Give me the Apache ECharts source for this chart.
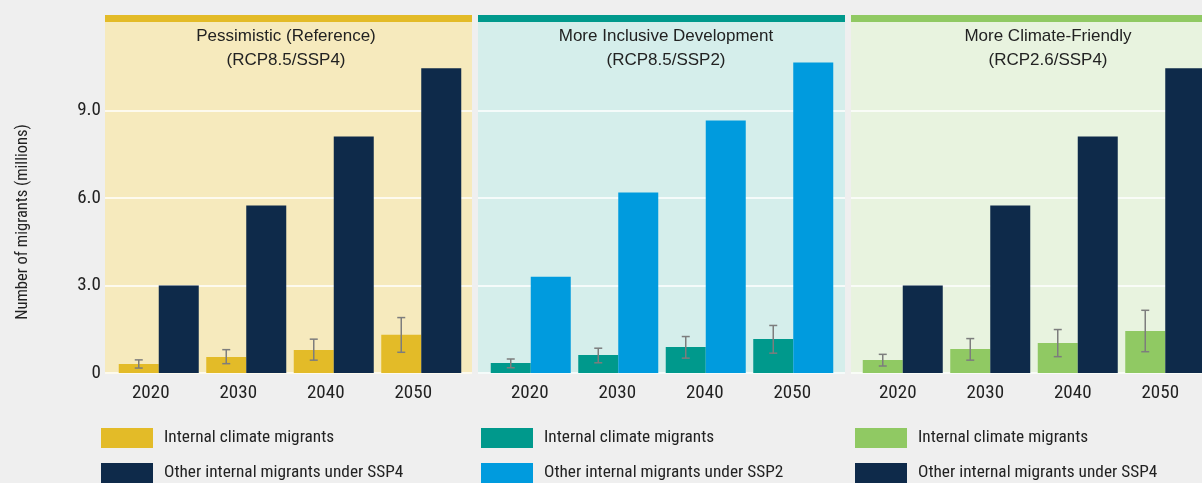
<!DOCTYPE html>
<html>
<head>
<meta charset="utf-8">
<script src="https://cdn.jsdelivr.net/npm/echarts@6/dist/echarts.min.js"></script>
<style>
  html, body { margin: 0; padding: 0; background: #efefef; }
  #chart { width: 1202px; height: 483px; }
</style>
</head>
<body>
<div id="chart"></div>
<script>
// Categories
const years = ['2020', '2030', '2040', '2050'];

// Pessimistic (Reference) scenario, millions of migrants
const pessimisticClimate = [0.31, 0.55, 0.79, 1.31];
const pessimisticClimateLow = [0.17, 0.32, 0.44, 0.71];
const pessimisticClimateHigh = [0.45, 0.80, 1.16, 1.90];
const pessimisticOther = [3.00, 5.74, 8.11, 10.45];

// More Inclusive Development scenario
const inclusiveClimate = [0.34, 0.62, 0.89, 1.17];
const inclusiveClimateLow = [0.18, 0.35, 0.51, 0.68];
const inclusiveClimateHigh = [0.48, 0.85, 1.25, 1.63];
const inclusiveOther = [3.30, 6.19, 8.66, 10.65];

// More Climate-Friendly scenario
const friendlyClimate = [0.45, 0.82, 1.03, 1.44];
const friendlyClimateLow = [0.24, 0.44, 0.56, 0.73];
const friendlyClimateHigh = [0.64, 1.18, 1.49, 2.15];
const friendlyOther = [3.00, 5.74, 8.11, 10.45];

// Axis ticks
const yMin = 0, yMax = 12, yStep = 3;

// Text
const panelTitles = [
  'Pessimistic (Reference)\n(RCP8.5/SSP4)',
  'More Inclusive Development\n(RCP8.5/SSP2)',
  'More Climate-Friendly\n(RCP2.6/SSP4)'
];
const climateName = 'Internal climate migrants';
const otherNames = [
  'Other internal migrants under SSP4',
  'Other internal migrants under SSP2',
  'Other internal migrants under SSP4'
];
const yTitle = 'Number of migrants (millions)';

// Layout and colours per panel
const NARROW = '"Liberation Sans Narrow", "Roboto Condensed", "DejaVu Sans Condensed", sans-serif';
const SANS = '"Liberation Sans", Arial, sans-serif';
const BAR_W = 40;
const panels = [
  { bgLeft: 105, barLeft: 115, titleX: 286, labelShift: 8, legendLeft: 101,
    bg: '#f6eabd', stripe: '#e3bb28', climateColor: '#e3bb28', otherColor: '#0e2a4a',
    climate: pessimisticClimate, low: pessimisticClimateLow, high: pessimisticClimateHigh, other: pessimisticOther },
  { bgLeft: 478, barLeft: 487, titleX: 666, labelShift: 1, legendLeft: 481,
    bg: '#d5eeeb', stripe: '#00998c', climateColor: '#00998c', otherColor: '#009bde',
    climate: inclusiveClimate, low: inclusiveClimateLow, high: inclusiveClimateHigh, other: inclusiveOther },
  { bgLeft: 851, barLeft: 859, titleX: 1048, labelShift: 5, legendLeft: 855,
    bg: '#e8f3df', stripe: '#90c963', climateColor: '#90c963', otherColor: '#0e2a4a',
    climate: friendlyClimate, low: friendlyClimateLow, high: friendlyClimateHigh, other: friendlyOther }
];

const PANEL_W = 367, BARS_W = 350, GRID_TOP = 23, GRID_H = 350;

const grid = [], xAxis = [], yAxis = [], series = [], legend = [], graphic = [];

panels.forEach((p, i) => {
  // backdrop grid (split lines, y labels) and bar grid
  grid.push({ left: p.bgLeft, width: PANEL_W, top: GRID_TOP, height: GRID_H, outerBoundsMode: 'none' });
  grid.push({ left: p.barLeft, width: BARS_W, top: GRID_TOP, height: GRID_H, outerBoundsMode: 'none' });

  xAxis.push({ gridIndex: 2 * i, type: 'category', data: years, show: false });
  xAxis.push({
    gridIndex: 2 * i + 1, type: 'category', data: years,
    axisLine: { show: false }, axisTick: { show: false },
    axisLabel: {
      margin: 11, fontFamily: NARROW, fontSize: 19, color: '#222',
      padding: [0, 2 * p.labelShift, 0, 0]
    }
  });

  yAxis.push({
    gridIndex: 2 * i, type: 'value', min: yMin, max: yMax, interval: yStep,
    axisLine: { show: false }, axisTick: { show: false },
    axisLabel: {
      show: i === 0, margin: 4, fontFamily: NARROW, fontSize: 19, color: '#222',
      formatter: v => (v === yMax ? '' : (v === 0 ? '0' : v.toFixed(1)))
    },
    splitLine: { show: true, lineStyle: { color: ['#ffffff', '#ffffff', '#ffffff', '#ffffff', 'rgba(0,0,0,0)'], width: 1.5 } }
  });
  yAxis.push({ gridIndex: 2 * i + 1, type: 'value', min: yMin, max: yMax, interval: yStep, show: false, splitLine: { show: false } });

  series.push({
    type: 'bar', name: climateName, xAxisIndex: 2 * i + 1, yAxisIndex: 2 * i + 1,
    data: p.climate, barWidth: BAR_W, barGap: '0%', itemStyle: { color: p.climateColor }, z: 3
  });
  series.push({
    type: 'bar', name: otherNames[i], xAxisIndex: 2 * i + 1, yAxisIndex: 2 * i + 1,
    data: p.other, barWidth: BAR_W, barGap: '0%', itemStyle: { color: p.otherColor }, z: 3
  });
  // uncertainty range of internal climate migrants
  series.push({
    type: 'custom', name: climateName + ' range', xAxisIndex: 2 * i + 1, yAxisIndex: 2 * i + 1,
    data: years.map((y, k) => [k, p.low[k], p.high[k]]),
    encode: { x: 0, y: [1, 2] }, z: 5, silent: true,
    renderItem: (params, api) => {
      const cx = api.coord([api.value(0), 0])[0] - BAR_W / 2;
      const yLo = api.coord([api.value(0), api.value(1)])[1];
      const yHi = api.coord([api.value(0), api.value(2)])[1];
      const st = { stroke: '#7d7d7d', lineWidth: 1.5 };
      return {
        type: 'group', children: [
          { type: 'line', shape: { x1: cx, y1: yHi, x2: cx, y2: yLo }, style: st },
          { type: 'line', shape: { x1: cx - 4, y1: yHi, x2: cx + 4, y2: yHi }, style: st },
          { type: 'line', shape: { x1: cx - 4, y1: yLo, x2: cx + 4, y2: yLo }, style: st }
        ]
      };
    }
  });

  legend.push({
    orient: 'vertical', left: p.legendLeft, top: 428, height: 80, padding: 0,
    itemWidth: 52, itemHeight: 20, itemGap: 15, icon: 'rect', selectedMode: false,
    textStyle: { fontFamily: NARROW, fontSize: 17.3, color: '#222', padding: [0, 0, 0, 6] },
    data: [
      { name: climateName, itemStyle: { color: p.climateColor } },
      { name: otherNames[i], itemStyle: { color: p.otherColor } }
    ]
  });

  // panel backdrop, header stripe and heading
  graphic.push({ type: 'rect', z: -10, shape: { x: p.bgLeft, y: 22, width: PANEL_W, height: 352 }, style: { fill: p.bg } });
  graphic.push({ type: 'rect', z: -10, shape: { x: p.bgLeft, y: 15, width: PANEL_W, height: 7 }, style: { fill: p.stripe } });
  graphic.push({
    type: 'text', x: p.titleX, y: 24, z: 10,
    style: { text: panelTitles[i], align: 'center', verticalAlign: 'top', font: '17px ' + SANS, lineHeight: 24, fill: '#222' }
  });
});

graphic.push({
  type: 'text', x: 23, y: 222, rotation: Math.PI / 2, z: 10,
  style: { text: yTitle, align: 'center', verticalAlign: 'middle', font: '16.5px ' + NARROW, fill: '#222' }
});

const chart = echarts.init(document.getElementById('chart'), null, { renderer: 'canvas' });
chart.setOption({
  backgroundColor: '#efefef',
  animation: false,
  grid, xAxis, yAxis, series, legend, graphic
});
</script>
</body>
</html>
